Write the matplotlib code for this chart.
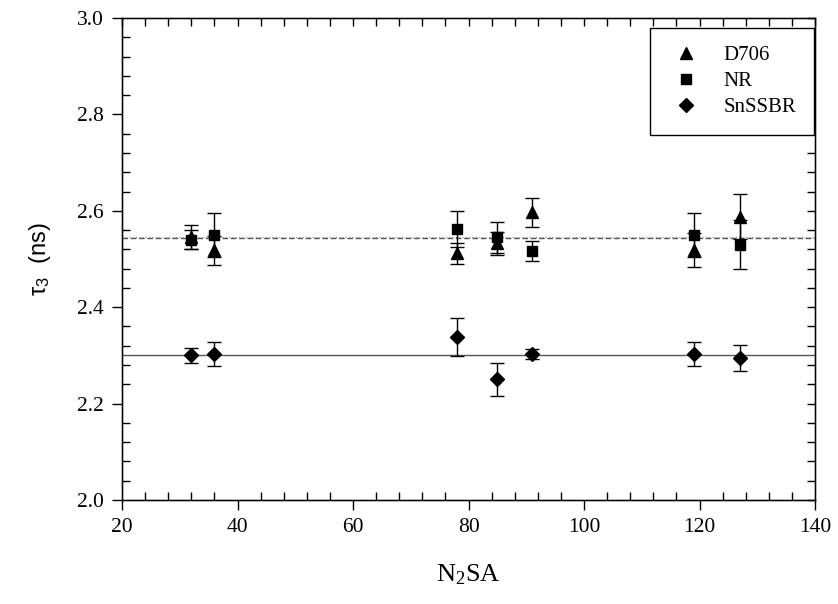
import matplotlib
matplotlib.use('Agg')
import matplotlib.pyplot as plt
from matplotlib.ticker import MultipleLocator, FormatStrFormatter
from matplotlib.lines import Line2D

# N2SA values and tau3 lifetimes (ns)
n2sa = [32, 36, 78, 85, 91, 119, 127]

d706 = [2.545, 2.518, 2.512, 2.533, 2.597, 2.518, 2.588]
d706_err = [0.025, 0.030, 0.022, 0.024, 0.030, 0.035, 0.046]

nr = [2.540, 2.550, 2.562, 2.545, 2.517, 2.550, 2.530]
nr_err = [0.020, 0.046, 0.037, 0.032, 0.021, 0.046, 0.050]

snssbr = [2.300, 2.303, 2.338, 2.250, 2.303, 2.303, 2.295]
snssbr_err = [0.015, 0.025, 0.040, 0.035, 0.010, 0.025, 0.027]

mean_rubber = 2.544
mean_snssbr = 2.300

fig = plt.figure(figsize=(8.38, 6.04), dpi=100)
ax = fig.add_axes([0.1456, 0.1722, 0.8270, 0.7980])

ax.axhline(mean_snssbr, color='#555555', lw=1.0, zorder=1)
ax.axhline(mean_rubber, color='#555555', lw=1.0, ls=(0, (4, 2)), zorder=1)
ax.axhline(mean_rubber + 0.001, color='#888888', lw=0.8, ls=(0, (1, 2)), zorder=1)

kw = dict(color='black', ecolor='black', elinewidth=1.0, capsize=5,
          capthick=1.0, ls='none', zorder=3)
ax.errorbar(n2sa, d706, yerr=d706_err, marker='^', ms=9, **kw)
ax.errorbar(n2sa, nr, yerr=nr_err, marker='s', ms=7.5, **kw)
ax.errorbar(n2sa, snssbr, yerr=snssbr_err, marker='D', ms=7.5, **kw)

ax.set_xlim(20, 140)
ax.set_ylim(2.0, 3.0)


def set_locators(a):
    a.xaxis.set_major_locator(MultipleLocator(20))
    a.xaxis.set_minor_locator(MultipleLocator(4))
    a.yaxis.set_major_locator(MultipleLocator(0.2))
    a.yaxis.set_minor_locator(MultipleLocator(0.04))


set_locators(ax)
ax.yaxis.set_major_formatter(FormatStrFormatter('%.1f'))
ax.tick_params(which='major', direction='out', length=7, width=1.0,
               labelsize=15.5, pad=6)
ax.tick_params(which='minor', direction='in', length=6, width=1.0)
for lab in ax.get_xticklabels() + ax.get_yticklabels():
    lab.set_family('Liberation Serif')

# inward ticks on the top and right sides
axr = ax.twinx()
axr.set_ylim(ax.get_ylim())
axt = ax.twiny()
axt.set_xlim(ax.get_xlim())
for a in (axr, axt):
    set_locators(a)
    a.tick_params(which='both', direction='in', length=6, width=1.0,
                  labelright=False, labeltop=False, labelleft=False,
                  labelbottom=False)

for sp in ax.spines.values():
    sp.set_linewidth(1.0)

ax.set_xlabel(r'$\mathregular{N_2SA}$', family='Liberation Serif',
              fontsize=19, labelpad=18)
ax.set_ylabel(r'$\mathregular{\tau_3}$  (ns)', family='Liberation Sans',
              fontsize=17, labelpad=17)

handles = [Line2D([], [], color='black', marker=m, ms=s, ls='none')
           for m, s in (('^', 9), ('s', 7.5), ('D', 7.5))]
leg = axt.legend(handles, ['D706', 'NR', 'SnSSBR'], loc='upper right',
                 bbox_to_anchor=(0.9985, 0.979),
                 prop={'family': 'Liberation Serif', 'size': 15},
                 fancybox=False, edgecolor='black', framealpha=1,
                 handletextpad=0.9, borderpad=0.85, labelspacing=0.3,
                 handlelength=1.8, borderaxespad=0.0)
leg.get_frame().set_linewidth(1.0)

fig.savefig('out.png', dpi=100)
